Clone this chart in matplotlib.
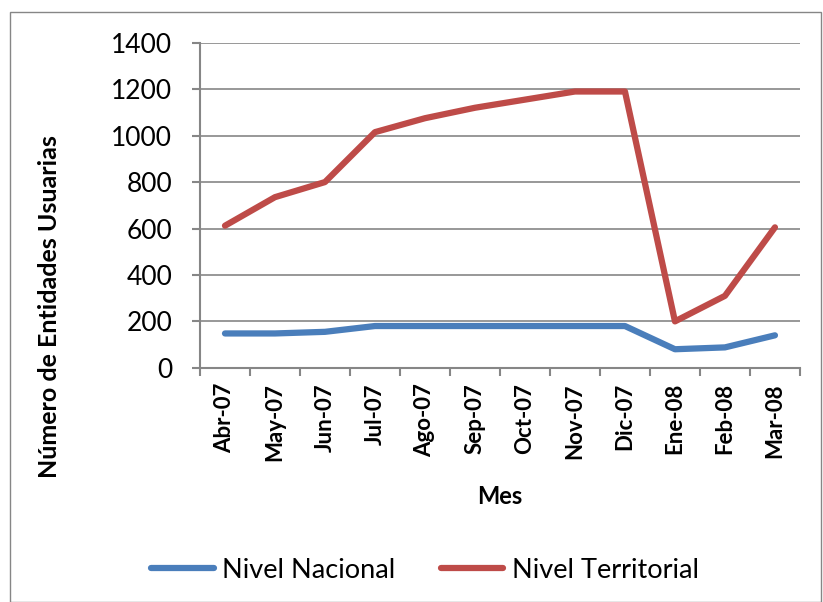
import numpy as np
import matplotlib
matplotlib.use("Agg")
from matplotlib import pyplot as plt
from matplotlib.patches import Rectangle

meses = ["Abr-07", "May-07", "Jun-07", "Jul-07", "Ago-07", "Sep-07",
         "Oct-07", "Nov-07", "Dic-07", "Ene-08", "Feb-08", "Mar-08"]
nivel_nacional = [148, 148, 155, 180, 180, 180, 180, 180, 180, 80, 88, 140]
nivel_territorial = [612, 735, 800, 1015, 1075, 1120, 1155, 1190, 1190, 200, 310, 605]

plt.rcParams['font.family'] = ['Lato', 'DejaVu Sans']

fig = plt.figure(figsize=(8.23, 6.02), dpi=100)
ax = fig.add_axes([0.243, 0.389, 0.729, 0.540])

x = np.arange(len(meses))
ax.plot(x, nivel_nacional, color='#4a7ebb', lw=4.5, label='Nivel Nacional',
        solid_capstyle='round', solid_joinstyle='round')
ax.plot(x, nivel_territorial, color='#be4b48', lw=4.5, label='Nivel Territorial',
        solid_capstyle='round', solid_joinstyle='round')

ax.set_xlim(-0.5, len(meses) - 0.5)
ax.set_ylim(0, 1400)
ax.set_yticks(range(0, 1401, 200))
ax.set_xticks(x)
ax.set_xticklabels(meses, rotation=90, fontweight='bold', fontsize=16)
ax.set_xticks(np.arange(-0.5, len(meses)), minor=True)
ax.tick_params(axis='x', which='major', length=0, pad=11)
ax.tick_params(axis='x', which='minor', length=6, color='#868686', width=1.5, direction='out')
ax.tick_params(axis='y', length=6, color='#868686', width=1.5, labelsize=19, pad=14)

ax.grid(axis='y', color='#868686', lw=1.2)
ax.set_axisbelow(True)
for s in ['top', 'right']:
    ax.spines[s].set_visible(False)
for s in ['left', 'bottom']:
    ax.spines[s].set_color('#868686')
    ax.spines[s].set_linewidth(1.5)

fig.text(500 / 823, 1 - 497 / 602, 'Mes', fontsize=17, fontweight='bold',
         ha='center', va='center')
fig.text(50 / 823, 1 - 307 / 602, 'Número de Entidades Usuarias', fontsize=18,
         fontweight='bold', rotation=90, ha='center', va='center')

fig.legend(loc='center', bbox_to_anchor=(425 / 823, 1 - 570 / 602), ncol=2, frameon=False,
           fontsize=19.5, handlelength=2.3, columnspacing=1.7, handletextpad=0.3)

fig.patches.append(Rectangle((0.012, 0.0), 0.986, 0.98, transform=fig.transFigure,
                             fill=False, edgecolor='#868686', lw=1))

fig.savefig('out.png', dpi=100)
